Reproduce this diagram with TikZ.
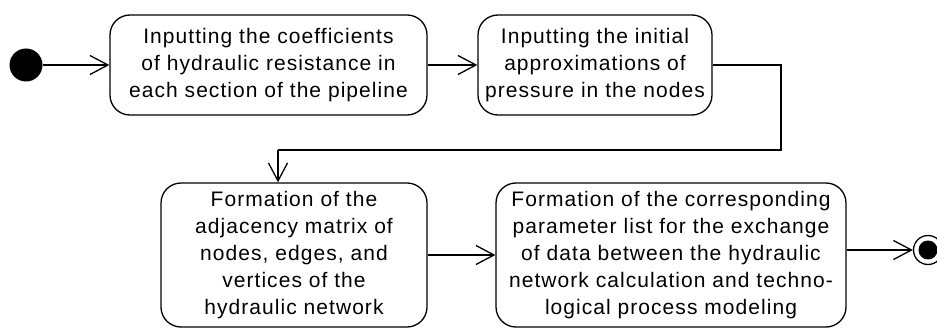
\documentclass[tikz,border=0pt]{standalone}
\usepackage{fontspec}
\setmainfont{Liberation Sans}[LetterSpace=5]
\usetikzlibrary{arrows.meta}
\begin{document}
\begin{tikzpicture}[x=1pt,y=-1pt,
  act/.style={draw,line width=1.3pt,rounded corners=20pt,align=center,
    inner sep=0pt,font=\fontsize{21}{26.8}\selectfont},
  flow/.style={line width=1.3pt,-{Straight Barb[length=18pt,width=19pt,line width=1.3pt]}},
  ]
\useasboundingbox (0,0) rectangle (937,329);
\clip (0,0) rectangle (937,329);

\node[circle,fill=black,minimum size=33pt,inner sep=0pt] (start) at (26,65) {};

\node[act,minimum width=317pt,minimum height=100pt] (b1) at (268.5,65)
  {Inputting the coefficients\\of hydraulic resistance in\\each section of the pipeline};
\node[act,minimum width=234pt,minimum height=100pt] (b2) at (595,65)
  {Inputting the initial\\approximations of\\pressure in the nodes};
\node[act,minimum width=266pt,minimum height=144pt] (b3) at (294,255)
  {Formation of the\\adjacency matrix of\\nodes, edges, and\\vertices of the\\hydraulic network};
\node[act,minimum width=350pt,minimum height=144pt] (b4) at (671,255)
  {Formation of the corresponding\\parameter list for the exchange\\of data between the hydraulic\\network calculation and techno-\\logical process modeling};

\node[circle,draw,line width=1.3pt,minimum size=29pt,inner sep=0pt] (end) at (928,250) {};
\node[circle,fill=black,minimum size=19pt,inner sep=0pt] at (end) {};

\coordinate (c1) at (781,65);
\coordinate (c2) at (781,150);
\coordinate (c3) at (278,150);

\draw[flow] (start) -- (b1);
\draw[flow] (b1) -- (b2);
\draw[line width=1.3pt] (b2.east) -- (c1) -- (c2) -- (c3);
\draw[flow] (c3) -- (c3 |- b3.north);
\draw[flow] (b3) -- (b4);
\draw[flow] (b4.east |- end) -- (end);
\end{tikzpicture}
\end{document}
